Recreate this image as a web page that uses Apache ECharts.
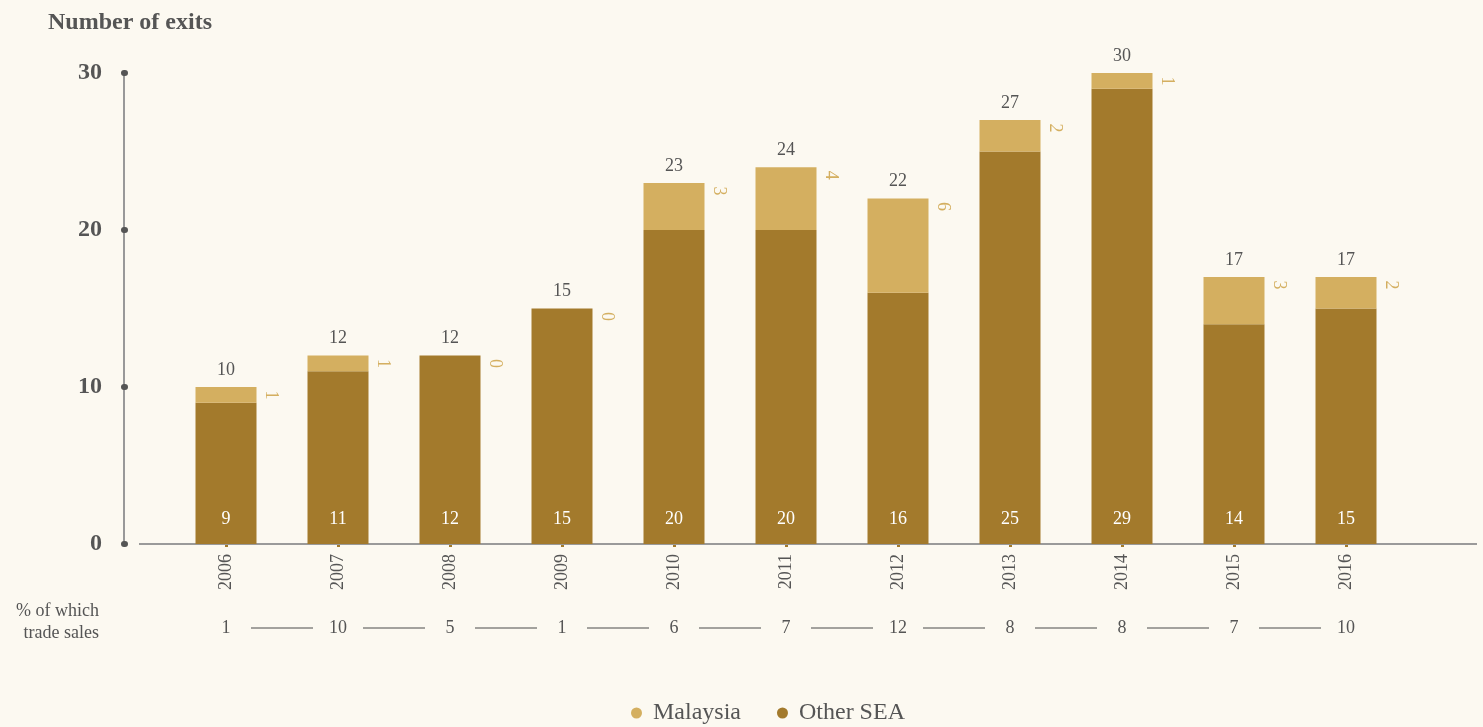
<!DOCTYPE html>
<html>
<head>
<meta charset="utf-8">
<script src="https://cdn.jsdelivr.net/npm/echarts@6/dist/echarts.min.js"></script>
<style>
	html, body { margin: 0; padding: 0; background: #fcf9f1; }
	#chart { width: 1483px; height: 727px; }
</style>
</head>
<body>
<div id="chart"></div>
<script>
// 年份
var years = [ '2006', '2007', '2008', '2009', '2010', '2011', '2012', '2013', '2014', '2015', '2016' ];
// Other SEA
var otherSea = [ 9, 11, 12, 15, 20, 20, 16, 25, 29, 14, 15 ];
// Malaysia
var malaysia = [ 1, 1, 0, 0, 3, 4, 6, 2, 1, 3, 2 ];
// 柱顶合计
var totals = [ 10, 12, 12, 15, 23, 24, 22, 27, 30, 17, 17 ];
// % of which trade sales
var tradeSales = [ 1, 10, 5, 1, 6, 7, 12, 8, 8, 7, 10 ];

var bg = '#fcf9f1';
var grey = '#555555';
var dark = '#a37a2c';
var light = '#d4af60';
var font = 'Liberation Serif';

var myChart = echarts.init(document.getElementById('chart'));
var option = {
	backgroundColor : bg,
	textStyle : {
		fontFamily : font
	},
	title : {
		text : 'Number of exits',
		left : 43,
		top : 6,
		textStyle : {
			fontFamily : font,
			fontWeight : 'bold',
			fontSize : 24,
			color : grey
		}
	},
	legend : {
		bottom : -3,
		left : 626,
		icon : 'circle',
		itemWidth : 11,
		itemHeight : 11,
		itemGap : 36,
		textStyle : {
			fontFamily : font,
			fontSize : 24,
			color : grey,
			padding : [ 0, 0, 0, 6 ]
		},
		data : [ 'Malaysia', 'Other SEA' ]
	},
	grid : [ {
		left : 170,
		right : 81,
		top : 73,
		bottom : 183
	}, {
		left : 170,
		right : 81,
		top : 618,
		height : 20
	} ],
	xAxis : [ {
		type : 'category',
		gridIndex : 0,
		data : years,
		axisLine : {
			show : false
		},
		axisTick : {
			show : true,
			alignWithLabel : true,
			length : 3,
			lineStyle : {
				color : dark,
				width : 3
			}
		},
		axisLabel : {
			rotate : 90,
			margin : 10,
			color : grey,
			fontSize : 18,
			fontFamily : font
		}
	}, {
		type : 'category',
		gridIndex : 1,
		data : years,
		show : false
	} ],
	yAxis : [ {
		type : 'value',
		gridIndex : 0,
		min : 0,
		max : 30,
		interval : 10,
		offset : 46,
		splitLine : {
			show : false
		},
		axisLine : {
			show : true,
			lineStyle : {
				color : '#999999',
				width : 2
			}
		},
		axisTick : {
			show : true,
			length : 1,
			inside : true,
			lineStyle : {
				color : grey,
				width : 6,
				cap : 'round'
			}
		},
		axisLabel : {
			margin : 22,
			color : grey,
			fontSize : 24,
			fontWeight : 'bold',
			fontFamily : font
		}
	}, {
		type : 'value',
		gridIndex : 1,
		min : -1,
		max : 1,
		show : false
	} ],
	series : [ {
		name : 'Other SEA',
		type : 'bar',
		stack : 'exits',
		barWidth : 61,
		itemStyle : {
			color : dark
		},
		label : {
			show : true,
			position : 'insideBottom',
			distance : 16,
			color : '#ffffff',
			fontSize : 18,
			fontFamily : font
		},
		data : otherSea
	}, {
		name : 'Malaysia',
		type : 'bar',
		stack : 'exits',
		barWidth : 61,
		itemStyle : {
			color : light
		},
		label : {
			show : true,
			position : [ '100%', 0 ],
			offset : [ 8, -14 ],
			rotate : -90,
			align : 'center',
			verticalAlign : 'middle',
			color : light,
			fontSize : 18,
			fontFamily : font
		},
		data : malaysia
	}, {
		name : 'Total',
		type : 'bar',
		stack : 'exits',
		barWidth : 61,
		itemStyle : {
			color : 'transparent'
		},
		label : {
			show : true,
			position : 'top',
			distance : 8,
			color : grey,
			fontSize : 18,
			fontFamily : font,
			formatter : function(p) {
				return totals[p.dataIndex];
			}
		},
		data : years.map(function() {
			return 0;
		})
	}, {
		name : 'trade',
		type : 'line',
		xAxisIndex : 1,
		yAxisIndex : 1,
		symbol : 'circle',
		symbolSize : 1,
		silent : true,
		lineStyle : {
			color : '#4a4a4a',
			width : 1
		},
		itemStyle : {
			color : bg
		},
		label : {
			show : true,
			position : 'inside',
			width : 50,
			align : 'center',
			backgroundColor : bg,
			color : grey,
			fontSize : 18,
			fontFamily : font,
			formatter : function(p) {
				return '' + tradeSales[p.dataIndex];
			}
		},
		data : tradeSales.map(function() {
			return 0;
		})
	} ],
	animation : false
};
myChart.setOption(option);

// x 轴底线(比类目区更长)
var base = myChart.convertToPixel({
	gridIndex : 0
}, [ 0, 0 ]);
myChart.setOption({
	graphic : [ {
		type : 'line',
		shape : {
			x1 : 139,
			y1 : base[1],
			x2 : 1477,
			y2 : base[1]
		},
		style : {
			stroke : '#9a9a9a',
			lineWidth : 2
		},
		z : 1
	}, {
		type : 'text',
		x : 99,
		y : 600,
		style : {
			text : '% of which\ntrade sales',
			align : 'right',
			fontFamily : font,
			fontSize : 18,
			lineHeight : 22,
			fill : grey
		}
	} ]
});
</script>
</body>
</html>
